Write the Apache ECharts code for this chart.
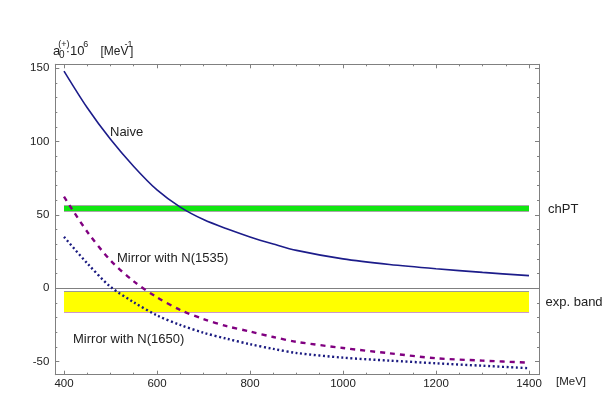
<!DOCTYPE html>
<html>
<head>
<meta charset="utf-8">
<script src="https://cdn.jsdelivr.net/npm/echarts@6.0.0/dist/echarts.min.js"></script>
<style>
html,body{margin:0;padding:0;background:#fff;}
#chart{width:607px;height:407px;}
</style>
</head>
<body>
<div id="chart"></div>
<script>
// ---- data ----
const energy   = [400, 450, 500, 550, 600, 650, 700, 750, 800, 850, 900, 1000, 1100, 1200, 1300, 1400];
const naive    = [148, 123, 101.5, 83, 67, 55.3, 46.8, 40.5, 35, 30.2, 25.8, 20, 16.2, 13.3, 10.8, 8.6];
const mirror1535 = [62.4, 38.5, 19, 4.7, -6.2, -14.8, -21, -25.8, -29.5, -33.2, -36.5, -40.7, -44.3, -47.7, -49.3, -50.7];
const mirror1650 = [35, 17, 1, -9.5, -18.5, -25, -30.3, -34.4, -38.1, -41.3, -44.1, -47.3, -49.3, -51.1, -52.8, -54.5];
const bandRange = [400, 1400];
const chptBand = [52.2, 56.7];
const expBand = [-16.4, -2.3];
const xTickLabels = [400, 600, 800, 1000, 1200, 1400];
const yTickLabels = [-50, 0, 50, 100, 150];

const FONT = 'Liberation Sans, Arial, sans-serif';
const pair = (xs, ys) => xs.map((x, i) => [x, ys[i]]);
const frameColor = '#808080';

const xCommon = {
  type: 'value', min: 381.3, max: 1421.5, splitNumber: 5,
  axisLine: { show: true, onZero: false, lineStyle: { color: frameColor, width: 1 } },
  axisTick: { show: true, inside: true, length: 4, lineStyle: { color: frameColor } },
  minorTick: { show: true, splitNumber: 4, length: 2, lineStyle: { color: frameColor } },
  splitLine: { show: false }
};
const yCommon = {
  type: 'value', min: -58.9, max: 152.6, splitNumber: 4,
  axisLine: { show: true, onZero: false, lineStyle: { color: frameColor, width: 1 } },
  axisTick: { show: true, inside: true, length: 4, lineStyle: { color: frameColor } },
  minorTick: { show: true, splitNumber: 5, length: 2, lineStyle: { color: frameColor } },
  splitLine: { show: false }
};

const chart = echarts.init(document.getElementById('chart'));
chart.setOption({
  animation: false,
  backgroundColor: '#fff',
  grid: { left: 55.3, right: 68, top: 64.3, bottom: 32.3, containLabel: false },
  xAxis: [
    Object.assign({}, xCommon, {
      position: 'bottom',
      axisLabel: {
        show: true, margin: 3, fontSize: 11.5, fontFamily: FONT, color: '#222',
        formatter: v => xTickLabels.includes(Math.round(v * 1000) / 1000) ? String(v) : ''
      }
    }),
    Object.assign({}, xCommon, { position: 'top', axisLabel: { show: false } })
  ],
  yAxis: [
    Object.assign({}, yCommon, {
      position: 'left',
      axisLabel: {
        show: true, margin: 6, fontSize: 11.5, fontFamily: FONT, color: '#222',
        formatter: v => yTickLabels.includes(Math.round(v * 1000) / 1000) ? String(v) : ''
      }
    }),
    Object.assign({}, yCommon, { position: 'right', axisLabel: { show: false } })
  ],
  series: [
    {
      type: 'line', name: 'bands', data: [], xAxisIndex: 0, yAxisIndex: 0,
      markArea: {
        silent: true,
        data: [
          [{ xAxis: bandRange[0], yAxis: chptBand[0], itemStyle: { color: '#11e611' } }, { xAxis: bandRange[1], yAxis: chptBand[1] }],
          [{ xAxis: bandRange[0], yAxis: expBand[0], itemStyle: { color: '#ffff00' } }, { xAxis: bandRange[1], yAxis: expBand[1] }]
        ]
      },
      markLine: {
        silent: true, symbol: 'none', label: { show: false },
        data: [
          [{ coord: [bandRange[0], chptBand[0]], lineStyle: { color: '#a8a8a8', width: 1, type: 'solid' } }, { coord: [bandRange[1], chptBand[0]] }],
          [{ coord: [bandRange[0], chptBand[1]], lineStyle: { color: '#a8a8a8', width: 1, type: 'solid' } }, { coord: [bandRange[1], chptBand[1]] }],
          [{ coord: [bandRange[0], expBand[1]], lineStyle: { color: '#999999', width: 1, type: 'solid' } }, { coord: [bandRange[1], expBand[1]] }],
          [{ coord: [bandRange[0], expBand[0]], lineStyle: { color: '#cc99cc', width: 1.2, type: 'solid' } }, { coord: [bandRange[1], expBand[0]] }],
          { yAxis: 0, lineStyle: { color: '#808080', width: 1, type: 'solid' } }
        ]
      }
    },
    {
      type: 'line', name: 'Naive', data: pair(energy, naive), symbol: 'none',
      smooth: 0.3,
      lineStyle: { color: '#1c1c8a', width: 1.6, type: 'solid' }, z: 5
    },
    {
      type: 'line', name: 'Mirror with N(1535)', data: pair(energy, mirror1535), symbol: 'none',
      smooth: 0.3,
      lineStyle: { color: '#800080', width: 2.4, type: [5, 5] }, z: 5
    },
    {
      type: 'line', name: 'Mirror with N(1650)', data: pair(energy, mirror1650), symbol: 'none',
      smooth: 0.3,
      lineStyle: { color: '#1a1a80', width: 2.4, type: [2, 2.6] }, z: 5
    }
  ],
  graphic: [
    { type: 'text', x: 110, y: 132, style: { text: 'Naive', fontSize: 13, fontFamily: FONT, fill: '#222', verticalAlign: 'middle' } },
    { type: 'text', x: 117, y: 258, style: { text: 'Mirror with N(1535)', fontSize: 13, fontFamily: FONT, fill: '#222', verticalAlign: 'middle' } },
    { type: 'text', x: 73, y: 339, style: { text: 'Mirror with N(1650)', fontSize: 13, fontFamily: FONT, fill: '#222', verticalAlign: 'middle' } },
    { type: 'text', x: 548, y: 209, style: { text: 'chPT', fontSize: 13, fontFamily: FONT, fill: '#222', verticalAlign: 'middle' } },
    { type: 'text', x: 545.5, y: 302, style: { text: 'exp. band', fontSize: 13, fontFamily: FONT, fill: '#222', verticalAlign: 'middle' } },
    { type: 'text', x: 556, y: 382, style: { text: '[MeV]', fontSize: 11.5, fontFamily: FONT, fill: '#222', verticalAlign: 'middle' } },
    // axis title: a_0^(+) · 10^6 [MeV^-1]
    { type: 'text', x: 53, y: 51.5, style: { text: 'a', fontSize: 13, fontFamily: FONT, fill: '#222', verticalAlign: 'middle' } },
    { type: 'text', x: 58.3, y: 45, style: { text: '(+)', fontSize: 9, fontFamily: FONT, fill: '#222', verticalAlign: 'middle' } },
    { type: 'text', x: 59, y: 55, style: { text: '0', fontSize: 10, fontFamily: FONT, fill: '#222', verticalAlign: 'middle' } },
    { type: 'text', x: 65.8, y: 51.5, style: { text: '·', fontSize: 13, fontFamily: FONT, fill: '#222', verticalAlign: 'middle' } },
    { type: 'text', x: 70, y: 51.5, style: { text: '10', fontSize: 13, fontFamily: FONT, fill: '#222', verticalAlign: 'middle' } },
    { type: 'text', x: 83.3, y: 45, style: { text: '6', fontSize: 9, fontFamily: FONT, fill: '#222', verticalAlign: 'middle' } },
    { type: 'text', x: 100.5, y: 51.5, style: { text: '[MeV', fontSize: 12, fontFamily: FONT, fill: '#222', verticalAlign: 'middle' } },
    { type: 'text', x: 124.5, y: 45, style: { text: '-1', fontSize: 9, fontFamily: FONT, fill: '#222', verticalAlign: 'middle' } },
    { type: 'text', x: 130, y: 51.5, style: { text: ']', fontSize: 12, fontFamily: FONT, fill: '#222', verticalAlign: 'middle' } }
  ]
});
</script>
</body>
</html>
